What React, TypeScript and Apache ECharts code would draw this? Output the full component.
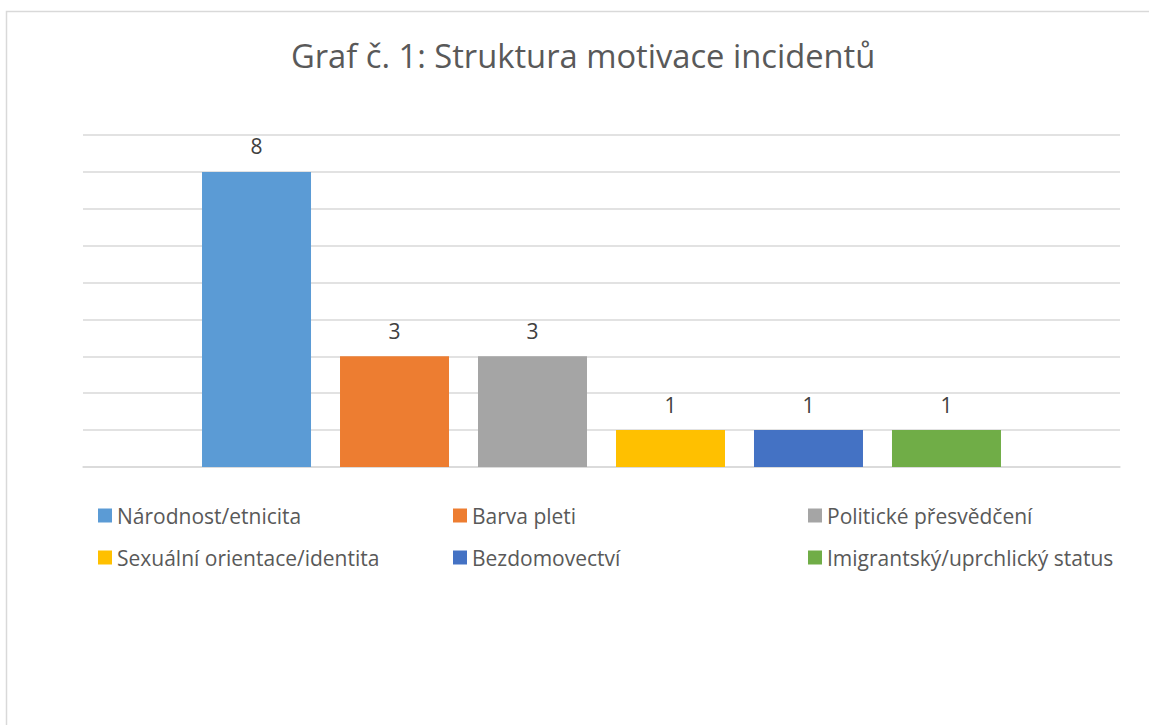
import React, { useEffect, useRef } from "react";
import * as echarts from "echarts";

const titleText = "Graf č. 1: Struktura motivace incidentů";
const seriesNames = [
  "Národnost/etnicita",
  "Barva pleti",
  "Politické přesvědčení",
  "Sexuální orientace/identita",
  "Bezdomovectví",
  "Imigrantský/uprchlický status",
];
const seriesValues = [8, 3, 3, 1, 1, 1];
const seriesColors = ["#5B9BD5", "#ED7D31", "#A5A5A5", "#FFC000", "#4472C4", "#70AD47"];
const legendColumns = [
  [seriesNames[0], seriesNames[3]],
  [seriesNames[1], seriesNames[4]],
  [seriesNames[2], seriesNames[5]],
];
const legendLefts = [93, 448, 803];

const FONT = "'Open Sans', 'Noto Sans', sans-serif";

export default function App() {
  const ref = useRef<HTMLDivElement>(null);
  useEffect(() => {
    if (!ref.current) return;
    const chart = echarts.init(ref.current, undefined, { renderer: "svg" });
    chart.setOption({
      animation: false,
      backgroundColor: "#ffffff",
      textStyle: { fontFamily: FONT },
      title: {
        text: titleText,
        left: 286,
        top: 34,
        textStyle: { fontFamily: FONT, fontSize: 32.7, fontWeight: "normal", color: "#595959" },
      },
      graphic: [
        {
          type: "rect",
          shape: { x: 6.5, y: 11.5, width: 1300, height: 900 },
          style: { fill: "none", stroke: "#d9d9d9", lineWidth: 1.5 },
          silent: true,
        },
      ],
      legend: legendColumns.map((col, i) => ({
        data: col,
        orient: "vertical",
        left: legendLefts[i],
        top: 500,
        padding: 5,
        itemWidth: 14,
        itemHeight: 14,
        itemGap: 21,
        icon: "rect",
        selectedMode: false,
        textStyle: { fontFamily: FONT, fontSize: 21, color: "#595959" },
      })),
      grid: { left: 83, right: 29, top: 135, bottom: 258, containLabel: false },
      xAxis: {
        type: "category",
        data: [""],
        axisLine: { lineStyle: { color: "#d9d9d9", width: 1.5 } },
        axisTick: { show: false },
        axisLabel: { show: false },
      },
      yAxis: {
        type: "value",
        min: 0,
        max: 9,
        interval: 1,
        axisLabel: { show: false },
        axisLine: { show: false },
        axisTick: { show: false },
        splitLine: { lineStyle: { color: "#d9d9d9", width: 1.5 } },
      },
      series: seriesNames.map((name, i) => ({
        name,
        type: "bar",
        data: [seriesValues[i]],
        barWidth: 109,
        barGap: "26.6%",
        itemStyle: { color: seriesColors[i] },
        label: {
          show: true,
          position: "top",
          distance: 15,
          fontFamily: FONT,
          fontSize: 21,
          color: "#404040",
        },
      })),
    });
    return () => chart.dispose();
  }, []);
  return (
    <div
      ref={ref}
      style={{ position: "absolute", left: 0, top: 0, width: 1149, height: 725 }}
    />
  );
}
